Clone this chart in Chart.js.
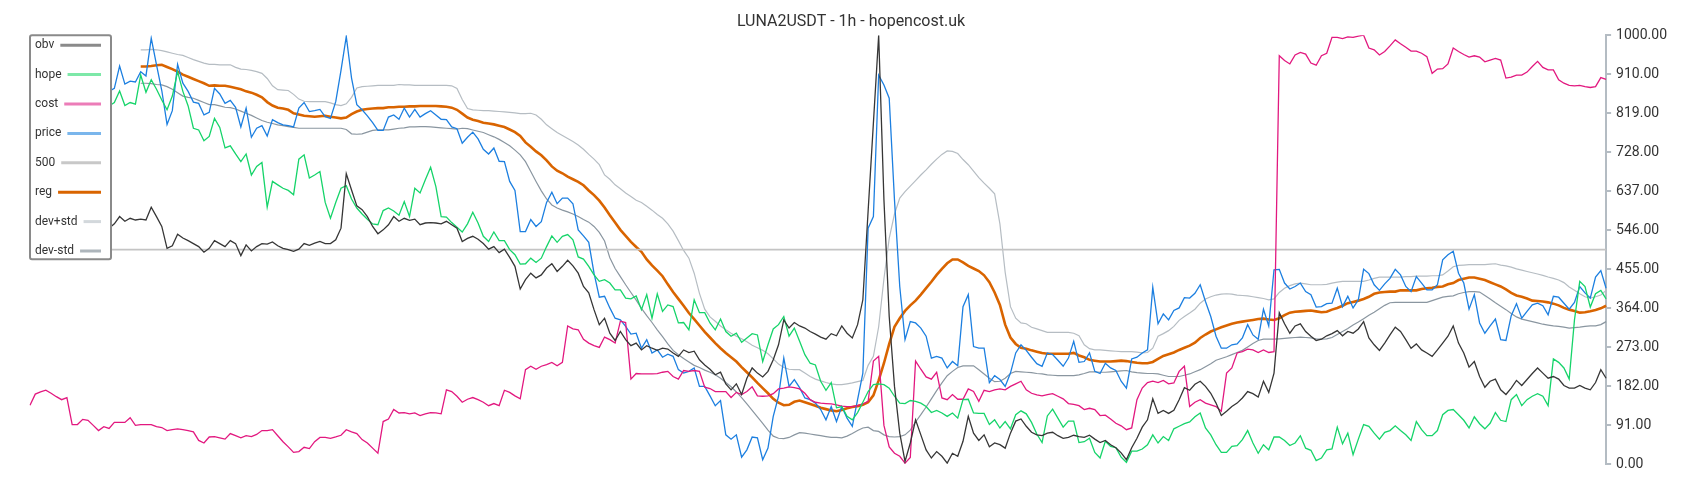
<!DOCTYPE html>
<html>
<head>
<meta charset="utf-8">
<title>LUNA2USDT - 1h - hopencost.uk</title>
<script src="https://cdn.jsdelivr.net/npm/chart.js@4.4.1/dist/chart.umd.min.js"></script>
<style>
  html, body { margin: 0; padding: 0; background: #fff; }
  #wrap { width: 1700px; height: 500px; position: relative; }
</style>
</head>
<body>
<div id="wrap"><canvas id="lunaChart"></canvas></div>
<script>
// values, scaled 0..1000, one per hourly bar
const obv = [540,555,548,560,552,565,558,545,560,570,555,548,562,575,558,550,
560,577,566,573,569,571,569,599,577,554,503,509,536,527,521,514,507,494,503,
521,514,507,521,514,486,511,497,507,514,513,518,509,503,500,496,501,514,510,515,519,514,514,523,550,677,639,602,593,577,554,537,546,558,577,566,
573,568,571,558,562,563,562,560,566,558,550,519,526,531,524,514,501,507,493,501,482,461,408,430,445,434,441,457,467,449,461,475,462,445,414,399,360,325,
340,305,288,309,290,276,282,266,276,270,265,270,268,259,251,266,260,263,243,231,221,208,214,187,173,187,162,200,224,212,203,216,243,278,336,317,330,322,
317,309,303,296,291,304,299,322,305,294,325,383,590,795,1000,616,344,181,72,6,49,103,68,33,14,29,18,2,25,18,53,111,72,55,68,40,49,
45,37,72,100,105,88,74,68,66,72,74,66,60,62,67,64,62,67,58,50,55,45,38,26,10,38,60,86,103,152,118,125,118,125,150,178,172,186,
193,181,165,142,113,123,134,142,154,169,164,156,193,167,212,353,327,305,322,327,309,298,288,291,299,304,311,299,309,305,315,332,294,278,265,282,301,319,
309,290,270,280,266,259,251,266,282,298,322,282,259,226,239,204,179,193,198,173,162,177,195,183,197,211,224,212,200,204,198,183,177,177,183,177,173,190,220,200];

const hope = [820,835,810,845,830,850,825,840,815,845,830,825,850,838,830,835,
843,870,836,843,839,907,867,896,874,849,826,858,915,869,835,783,779,754,764,
806,785,737,742,723,705,723,674,694,703,599,659,651,643,638,628,711,721,667,674,682,610,573,610,643,649,618,597,583,571,560,558,591,597,590,580,
612,577,643,632,663,692,647,577,576,563,552,541,560,587,562,531,519,541,521,521,500,488,466,467,480,470,480,507,532,517,531,535,523,483,478,461,441,426,430,
422,406,406,387,385,392,360,395,340,397,356,371,367,329,330,313,383,353,353,329,313,338,309,298,305,284,294,304,301,239,278,315,325,344,298,317,286,255,
235,231,193,172,190,131,134,111,103,120,144,169,185,187,185,177,158,142,141,148,146,142,134,120,125,119,111,119,107,150,151,119,118,118,92,103,
84,99,82,115,124,117,97,70,50,112,128,107,86,100,100,50,52,60,27,14,53,41,38,16,4,30,30,35,45,68,49,64,55,82,88,94,98,110,
119,84,68,45,27,27,41,43,57,78,49,25,45,33,63,63,55,43,49,66,37,32,8,14,33,35,86,47,72,22,58,92,88,72,58,74,78,89,
78,68,55,99,80,66,66,78,115,125,127,115,102,84,110,94,82,95,120,102,99,150,162,136,150,158,164,158,136,245,237,224,198,336,426,414,366,397,405,385];

const cost = [137,163,168,172,165,157,150,155,92,92,104,102,90,78,87,83,97,97,97,108,90,92,92,92,87,85,78,80,82,80,78,75,
55,49,63,64,61,58,71,66,61,66,64,69,78,78,80,66,52,40,27,29,39,36,52,62,62,60,63,67,80,75,71,57,49,37,25,99,105,127,
119,120,117,119,113,117,120,119,117,173,169,158,144,151,155,150,144,136,141,136,172,167,159,152,220,228,221,228,232,237,229,237,322,315,313,291,282,276,272,296,
290,282,333,330,198,211,210,210,210,211,214,216,204,198,218,216,218,216,179,176,169,169,169,155,167,162,169,180,159,158,159,164,175,177,180,178,175,165,
150,144,142,141,140,138,135,134,134,136,140,146,240,251,90,40,25,18,2,15,240,221,203,198,214,154,150,162,151,151,175,169,146,172,169,173,
175,173,181,187,193,173,165,161,159,162,164,158,152,141,139,136,127,130,127,113,114,105,95,89,80,84,150,177,190,193,190,195,187,189,216,228,134,144,
150,142,138,134,123,212,224,259,262,268,266,260,266,260,262,952,941,933,954,960,956,935,930,952,958,995,995,992,996,995,998,1000,970,966,954,962,975,989,
980,972,963,963,958,950,911,921,922,933,970,962,955,949,952,949,938,942,946,942,900,902,907,907,914,927,939,925,919,919,896,888,883,882,883,880,878,880,901,897];

const price = [860,870,855,880,865,875,850,868,872,860,880,865,870,858,866,869,
876,928,886,893,891,915,905,993,931,871,792,824,932,888,869,844,841,814,820,
876,863,841,848,832,786,830,762,783,789,765,803,796,791,789,786,830,843,822,824,827,810,806,845,918,997,900,838,826,812,796,778,778,809,814,804,
830,809,827,809,817,824,814,804,803,786,782,748,762,774,758,734,723,737,706,705,659,638,542,542,570,554,565,610,634,607,620,620,607,546,532,517,445,389,
391,364,340,336,321,303,305,270,290,259,266,249,256,251,220,212,216,224,181,181,159,136,148,68,58,68,16,33,63,61,10,37,111,158,247,181,197,178,
154,150,142,127,103,134,99,134,107,88,150,212,550,577,907,884,853,616,414,290,332,329,317,298,247,251,247,224,239,229,367,395,274,270,270,190,206,
197,181,212,259,278,265,249,234,228,259,255,242,228,247,286,237,239,259,216,211,235,224,218,193,177,245,249,259,266,412,327,350,336,358,364,388,387,398,
418,379,344,298,270,270,278,280,294,325,301,291,361,322,453,454,422,408,414,422,402,395,366,367,374,375,410,367,391,364,383,454,444,418,405,420,433,454,441,414,
402,437,422,406,406,418,476,488,496,445,422,361,395,329,305,322,338,290,288,346,374,340,356,371,375,369,348,391,389,375,361,377,414,399,387,436,451,410];

const level = 500;

const reg = [null,null,null,null,null,null,null,null,null,null,null,null,null,null,null,null,null,null,null,null,null,
927,927,928,930,931,926,921,915,908,903,898,893,888,882,
883,882,882,880,877,874,869,866,861,855,844,836,831,829,826,818,815,812,811,810,811,812,810,808,806,808,816,822,826,828,829,830,830,832,832,833,
833,834,834,835,835,835,835,834,833,831,826,817,808,803,800,796,794,792,789,786,780,774,765,750,740,729,720,708,694,684,678,670,664,658,650,638,627,614,
598,580,563,546,532,518,506,495,477,463,451,438,419,401,385,369,352,338,323,308,295,282,270,259,249,239,226,214,202,189,177,165,152,143,137,138,145,148,
144,140,136,131,128,125,123,126,130,133,135,138,144,160,195,235,280,320,340,357,370,381,395,410,425,441,455,468,477,477,470,462,456,450,440,424,400,
371,325,295,280,271,269,265,262,259,257,257,257,257,257,259,253,249,243,241,239,239,239,240,241,240,238,236,235,235,238,245,252,256,260,266,271,276,283,
294,302,309,314,319,323,327,330,332,334,336,338,339,337,336,340,347,353,355,356,357,358,356,354,355,360,364,369,375,378,381,385,390,397,400,401,402,402,
405,405,405,405,408,410,411,413,414,419,422,429,432,435,435,432,429,424,419,414,407,399,393,390,386,381,380,379,377,374,370,364,360,357,353,354,356,359,363,369];

const devUp = [null,null,null,null,null,null,null,null,null,null,null,null,null,null,null,null,null,null,null,null,null,
966,966,967,966,964,961,958,955,953,948,943,939,935,932,
932,931,931,931,925,921,920,918,915,911,899,882,873,872,871,862,851,846,845,845,845,845,842,838,836,840,855,877,880,881,882,883,883,883,883,885,
884,884,883,883,883,883,883,883,883,882,876,850,829,826,825,824,824,823,822,821,820,819,817,817,818,814,804,791,782,773,766,759,752,744,734,722,711,698,
674,664,651,642,632,624,615,610,601,592,582,573,560,543,521,498,480,445,398,361,343,333,322,313,305,298,292,285,277,271,265,257,245,233,225,221,220,220,
212,204,198,194,190,187,185,185,187,189,192,195,230,251,320,432,526,583,620,635,648,661,674,686,699,711,722,730,729,724,710,698,683,668,655,643,630,
560,447,367,340,329,327,319,315,311,307,307,307,307,307,305,299,278,269,266,266,265,264,263,262,262,262,261,259,260,270,298,304,311,321,335,344,352,361,
375,385,390,394,396,397,396,394,393,392,390,388,386,383,385,400,410,416,420,422,420,418,418,418,419,422,424,426,426,426,426,426,429,433,436,436,436,436,
436,437,437,438,438,438,439,439,441,450,460,463,464,465,465,465,465,466,467,464,462,459,455,452,449,446,443,440,436,433,429,423,413,405,397,390,387,390,394,405];

const devDown = [null,null,null,null,null,null,null,null,null,null,null,null,null,null,null,null,null,null,null,null,null,
888,888,887,885,884,880,874,866,858,855,853,848,843,838,
838,835,832,831,828,823,818,813,807,801,797,794,791,789,787,785,783,783,783,783,783,783,783,783,783,780,770,769,770,774,778,779,779,779,781,783,
784,786,786,787,787,786,785,784,783,782,781,783,782,779,776,773,768,763,757,750,742,732,721,705,682,659,637,618,604,597,592,588,583,577,570,564,554,540,
520,481,456,437,418,400,382,363,346,330,313,297,280,265,255,246,238,230,225,219,214,208,200,190,180,168,155,140,125,110,95,79,65,60,59,62,68,73,
72,70,68,66,64,62,62,61,65,71,78,84,86,78,76,68,64,63,64,68,79,98,115,133,152,171,189,206,216,225,229,229,229,220,210,200,192,
193,200,211,216,215,214,213,211,210,208,207,206,206,206,206,208,211,215,215,214,214,215,216,217,218,215,213,212,211,211,210,207,204,204,204,207,210,215,
220,227,234,242,246,250,255,260,265,273,281,288,291,291,291,292,293,294,295,296,295,294,292,291,292,295,302,309,316,324,331,339,347,354,362,370,376,377,
377,377,377,377,377,377,381,385,389,391,392,397,400,402,402,401,393,385,376,368,360,351,343,338,335,332,329,326,324,322,321,319,317,318,319,321,322,322,325,332];

const yTickLabels = ['0.00','91.00','182.00','273.00','364.00','455.00','546.00','637.00','728.00','819.00','910.00','1000.00'];

const hours = price.map((_, i) => i + 1);

Chart.defaults.font.family = 'Roboto';
Chart.defaults.color = '#333';

// left-hand boxed legend, label first then a short line sample
const boxLegend = {
    id: 'boxLegend',
    afterDraw(chart) {
        const ctx = chart.ctx;
        const left = chart.chartArea.left;
        const top = chart.chartArea.top;
        ctx.save();
        ctx.fillStyle = '#fff';
        ctx.strokeStyle = '#8a8a8a';
        ctx.lineWidth = 2;
        ctx.beginPath();
        ctx.roundRect(left, top, 81, 224, 2);
        ctx.fill();
        ctx.stroke();
        ctx.font = '12px Roboto';
        ctx.textBaseline = 'middle';
        chart.data.datasets.forEach((ds, i) => {
            const y = top + 10 + i * 29.4;
            ctx.fillStyle = '#333';
            ctx.fillText(ds.label, left + 5, y);
            const tw = ctx.measureText(ds.label).width;
            ctx.strokeStyle = ds.legendColor;
            ctx.lineWidth = 3;
            ctx.beginPath();
            ctx.moveTo(left + 5 + tw + 6, y);
            ctx.lineTo(left + 71, y);
            ctx.stroke();
        });
        ctx.restore();
    }
};

function line(label, data, color, legendColor, width) {
    return {
        label: label,
        data: data,
        borderColor: color,
        legendColor: legendColor,
        borderWidth: width,
        pointRadius: 0,
        tension: 0,
        fill: false
    };
}

const ctx = document.getElementById('lunaChart').getContext('2d');
new Chart(ctx, {
    type: 'line',
    data: {
        labels: hours,
        datasets: [
            line('obv', obv, '#363636', '#8a8a8a', 1.3),
            line('hope', hope, '#16d46a', '#7de8a8', 1.3),
            line('cost', cost, '#e2187f', '#ec7cb8', 1.3),
            line('price', price, '#1c7fe0', '#7ab6ec', 1.3),
            line('500', hours.map(() => level), '#c4c4c4', '#c8c8c8', 1.6),
            line('reg', reg, '#d96400', '#d96400', 2.6),
            line('dev+std', devUp, '#b6bdc3', '#d3d8dc', 1.2),
            line('dev-std', devDown, '#8a96a0', '#adb5bb', 1.2)
        ]
    },
    options: {
        responsive: true,
        maintainAspectRatio: false,
        animation: false,
        layout: { padding: { left: 30, right: 28, top: 0, bottom: 36 } },
        plugins: {
            legend: { display: false },
            tooltip: { enabled: false },
            title: {
                display: true,
                text: 'LUNA2USDT - 1h - hopencost.uk',
                color: '#333',
                font: { size: 16, weight: 'normal' },
                padding: { top: 12, bottom: 4 }
            }
        },
        scales: {
            x: { display: false },
            y: {
                position: 'right',
                min: 0,
                max: 1000,
                afterBuildTicks: axis => {
                    axis.ticks = yTickLabels.map((_, i) => ({ value: i * 1000 / (yTickLabels.length - 1) }));
                },
                ticks: {
                    autoSkip: false,
                    padding: 5,
                    color: '#333',
                    font: { size: 14 },
                    callback: (v, i) => yTickLabels[i]
                },
                grid: { drawOnChartArea: false, drawTicks: true, tickLength: 5, color: '#b4bcc3', lineWidth: 2 },
                border: { display: true, color: '#b4bcc3', width: 2 }
            }
        }
    },
    plugins: [boxLegend]
});
</script>
</body>
</html>
